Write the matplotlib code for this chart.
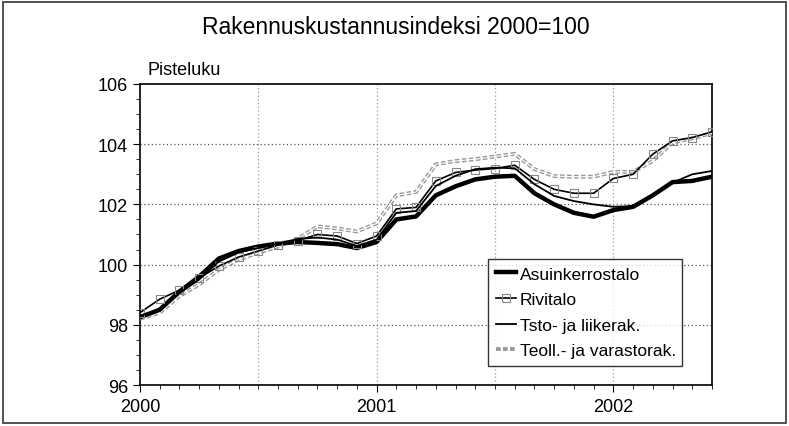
import matplotlib
matplotlib.use("Agg")
import matplotlib.pyplot as plt
import numpy as np
from matplotlib.patches import Rectangle
from matplotlib.ticker import MultipleLocator, FixedLocator

plt.rcParams['font.family'] = ['Liberation Sans Narrow', 'Liberation Sans', 'DejaVu Sans']

# kuukaudet 1/2000 - 6/2002
months = np.arange(30)
year_ticks = [0, 12, 24]
year_labels = ['2000', '2001', '2002']

asuinkerrostalo = [98.25, 98.5, 99.1, 99.6, 100.2, 100.45, 100.6, 100.7, 100.75, 100.72,
                   100.68, 100.55, 100.75, 101.5, 101.6, 102.3, 102.6, 102.83, 102.92, 102.95,
                   102.37, 102.0, 101.72, 101.59, 101.81, 101.92, 102.3, 102.74, 102.78, 102.92]
rivitalo = [98.4, 98.85, 99.15, 99.55, 99.95, 100.25, 100.45, 100.65, 100.8, 101.0,
            100.95, 100.7, 100.95, 101.85, 101.9, 102.78, 103.06, 103.14, 103.19, 103.3,
            102.83, 102.5, 102.37, 102.37, 102.86, 103.0, 103.67, 104.11, 104.22, 104.41]
tsto = [98.3, 98.5, 99.05, 99.5, 100.1, 100.4, 100.55, 100.7, 100.85, 100.9,
        100.83, 100.62, 100.83, 101.72, 101.78, 102.61, 102.95, 103.17, 103.22, 103.2,
        102.67, 102.28, 102.11, 102.0, 101.92, 101.94, 102.3, 102.72, 103.0, 103.11]
teoll = [98.2, 98.4, 98.95, 99.34, 99.83, 100.17, 100.39, 100.6, 100.85, 101.27,
         101.2, 101.1, 101.37, 102.3, 102.41, 103.33, 103.44, 103.5, 103.59, 103.68,
         103.17, 102.94, 102.92, 102.92, 103.08, 103.08, 103.44, 104.06, 104.19, 104.37]

fig = plt.figure(figsize=(7.89, 4.27), dpi=100)
ax = fig.add_axes([0.1773, 0.096, 0.7251, 0.705])

fig.patches.append(Rectangle((0.004, 0.006), 0.992, 0.988, transform=fig.transFigure,
                             fill=False, edgecolor='#333333', lw=1.2))

# harmaa "helminauha"-viiva
ax.plot(months, teoll, color='#999999', lw=2.8, ls=(0, (1.2, 0.6)),
        label='Teoll.- ja varastorak.', zorder=3)
ax.plot(months, teoll, color='white', lw=0.8, zorder=3)
ax.plot(months, asuinkerrostalo, color='black', lw=3.2, label='Asuinkerrostalo', zorder=4)
ax.plot(months, rivitalo, color='black', lw=1.2, marker='s', markersize=6,
        markerfacecolor='none', markeredgecolor='#888888', markeredgewidth=0.8,
        label='Rivitalo', zorder=5)
ax.plot(months, tsto, color='black', lw=1.3, label='Tsto- ja liikerak.', zorder=5)

ax.set_xlim(0, 29)
ax.set_ylim(96, 106)

ax.xaxis.set_major_locator(FixedLocator(year_ticks))
ax.set_xticklabels(year_labels)
ax.xaxis.set_minor_locator(MultipleLocator(1))
ax.yaxis.set_major_locator(MultipleLocator(2))
ax.yaxis.set_minor_locator(MultipleLocator(0.5))
ax.tick_params(axis='both', which='major', labelsize=13, length=5, width=0.8, direction='out')
ax.tick_params(axis='both', which='minor', length=3, width=0.6, direction='out')
ax.tick_params(axis='x', pad=4)

for y in [98, 100, 102, 104]:
    ax.axhline(y, color='#555555', lw=0.9, ls=(0, (1, 2)), zorder=1)
for x in [6, 12, 18, 24]:
    ax.axvline(x, color='#999999', lw=0.9, ls=(0, (1, 2)), zorder=1)

for s in ax.spines.values():
    s.set_linewidth(1.2)

fig.text(0.502, 0.935, 'Rakennuskustannusindeksi 2000=100', ha='center', va='center', fontsize=16.5)
fig.text(0.187, 0.835, 'Pisteluku', ha='left', va='center', fontsize=13)

h, l = ax.get_legend_handles_labels()
order = [1, 2, 3, 0]
leg = ax.legend([h[i] for i in order], [l[i] for i in order],
                loc='lower left', bbox_to_anchor=(0.608, 0.063, 0.34, 0.386), mode='expand',
                fontsize=12.5, frameon=True, fancybox=False, edgecolor='black',
                handlelength=1.2, handletextpad=0.2, borderpad=0.45, labelspacing=0.6,
                borderaxespad=0)
leg.get_frame().set_linewidth(1.0)

fig.savefig('out.png', dpi=100)
